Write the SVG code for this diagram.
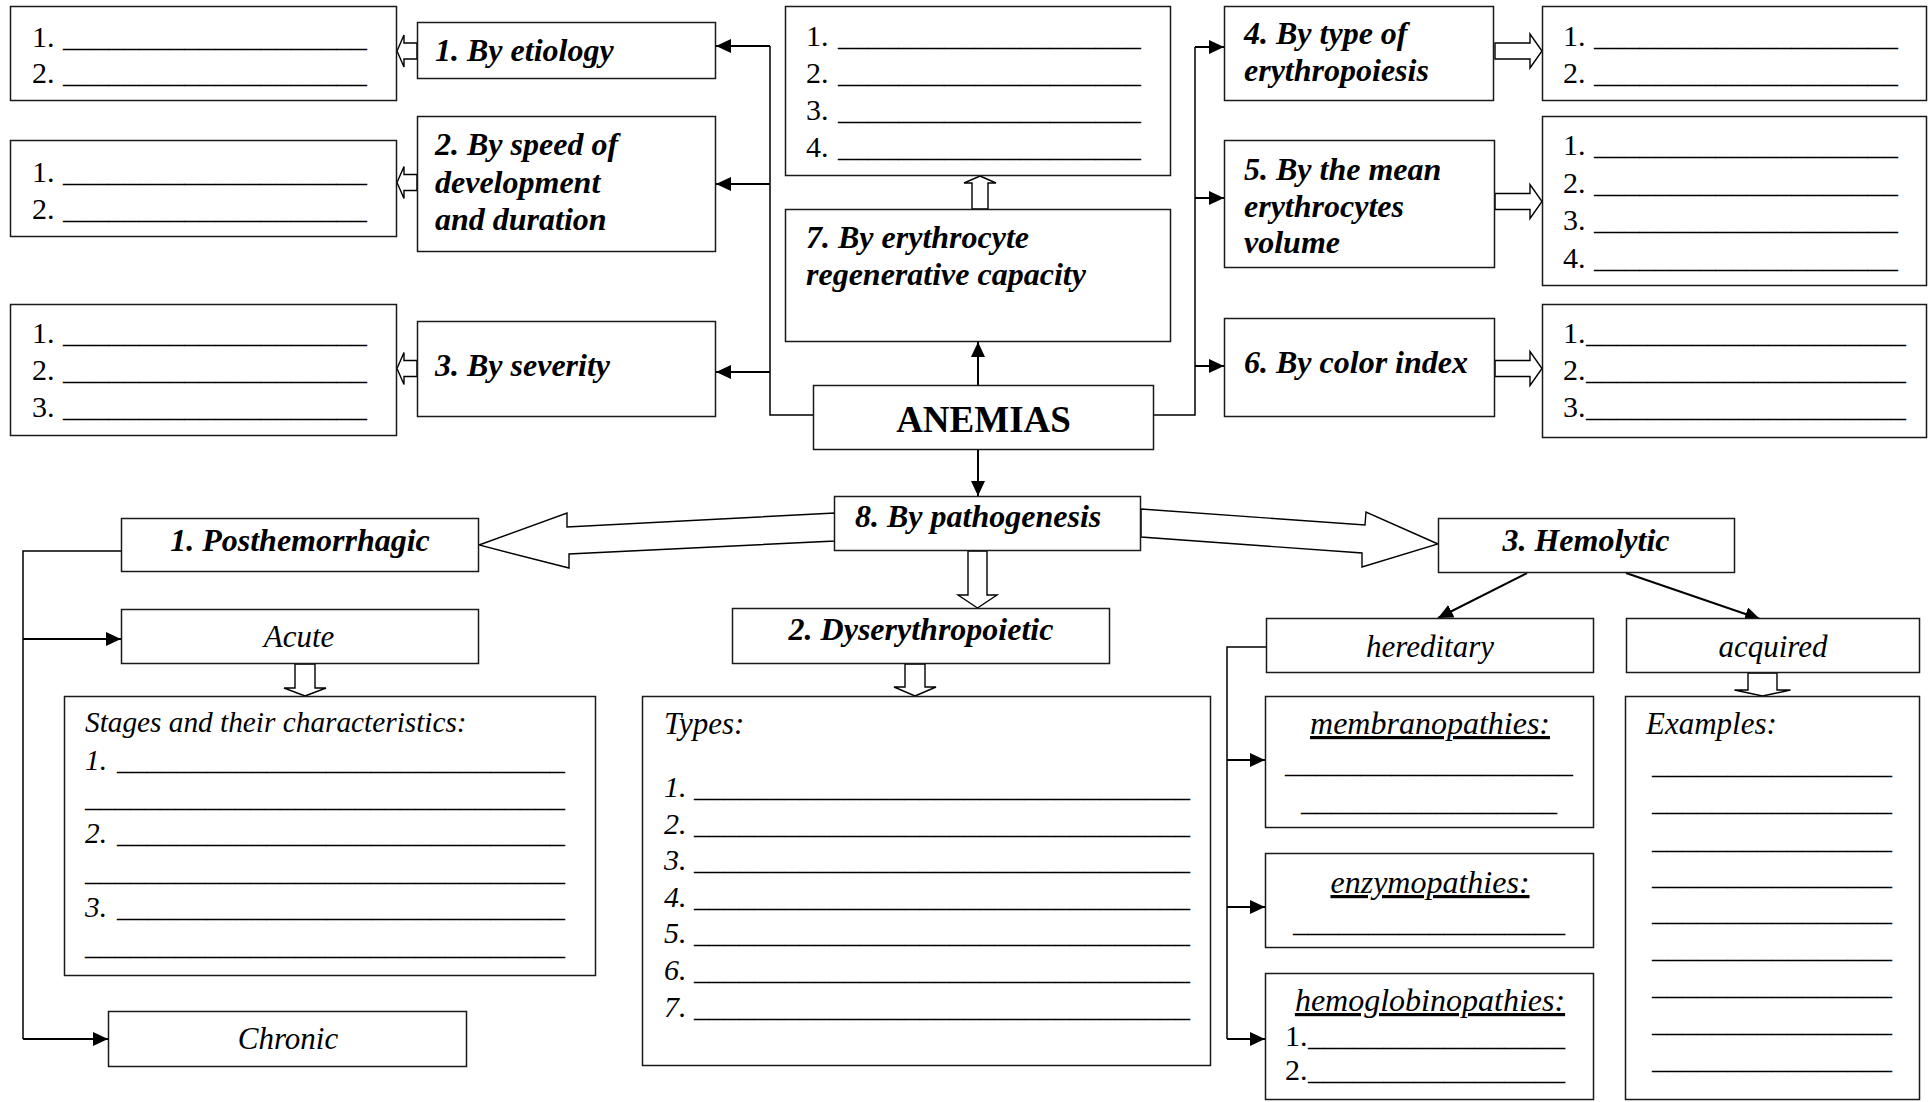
<svg xmlns="http://www.w3.org/2000/svg" width="1932" height="1102" viewBox="0 0 1932 1102">
<style>
text{font-family:"Liberation Serif","Times New Roman",serif;fill:#000}
.box{fill:#fff;stroke:#1a1a1a;stroke-width:1.5}
.lbl{font-size:32px;font-weight:bold;font-style:italic}
.big{font-size:37px;font-weight:bold}
.it{font-size:31px;font-style:italic}
.ul{text-decoration:underline;font-size:32px}
.num{font-size:30px}
.st{font-size:29.3px}
.line{stroke:#000;stroke-width:1.5;fill:none}
.arr{stroke:#000;stroke-width:2;fill:none;marker-end:url(#ah)}
.hol{fill:#fff;stroke:#000;stroke-width:1.4;stroke-linejoin:miter}
</style>
<defs>
<marker id="ah" markerUnits="userSpaceOnUse" markerWidth="15" markerHeight="14" refX="15" refY="7" orient="auto">
<path d="M0,0 L15,7 L0,14 Z" fill="#000"/>
</marker>
<path id="hl" d="M20,-8 H7 V-16 L0,0 L7,16 V8 H20 Z"/>
<path id="hr" d="M-47,-8 H-12 V-17 L0,0 L-12,17 V8 H-47 Z"/>
</defs>

<g id="connectors">
<polyline class="line" points="813,415 770,415 770,46"/>
<line class="arr" x1="770" y1="46" x2="716" y2="46"/>
<line class="arr" x1="770" y1="184" x2="716" y2="184"/>
<line class="arr" x1="770" y1="372" x2="716" y2="372"/>
<polyline class="line" points="1154,415 1195,415 1195,47"/>
<line class="arr" x1="1195" y1="47" x2="1224" y2="47"/>
<line class="arr" x1="1195" y1="198" x2="1224" y2="198"/>
<line class="arr" x1="1195" y1="366" x2="1224" y2="366"/>
<use href="#hl" class="hol" transform="translate(397,51)"/>
<use href="#hl" class="hol" transform="translate(397,182.5)"/>
<use href="#hl" class="hol" transform="translate(397,368.5)"/>
<use href="#hr" class="hol" transform="translate(1542,51)"/>
<use href="#hr" class="hol" transform="translate(1542,201.5)"/>
<use href="#hr" class="hol" transform="translate(1542,368.5)"/>
<path class="hol" d="M980,176 L996,183 H988 V209 H972 V183 H964 Z"/>
<line class="arr" x1="978" y1="385" x2="978" y2="342"/>
<line class="arr" x1="978" y1="450" x2="978" y2="496"/>
<path class="hol" d="M835,513 L567,527 L567,513 L479,545 L569,568 L569,554 L835,541 Z"/>
<path class="hol" d="M1141,509 L1365,525 L1366,512 L1438,544 L1362,567 L1362,553 L1141,537 Z"/>
<path class="hol" d="M977.5,608 L997,595 H987 V551 H968 V595 H958 Z"/>
<path class="hol" d="M915,696 L936,687 H925 V664 H905 V687 H894 Z"/>
<path class="hol" d="M305,696 L326,688 H315 V664 H295 V688 H284 Z"/>
<path class="hol" d="M1762.5,696 L1790.5,690 H1777 V673 H1748 V690 H1734.5 Z"/>
<polyline class="line" points="121,551 23,551 23,1039"/>
<line class="arr" x1="23" y1="639" x2="121" y2="639"/>
<line class="arr" x1="23" y1="1039" x2="108" y2="1039"/>
<line class="arr" x1="1527" y1="573" x2="1438" y2="618"/>
<line class="arr" x1="1626" y1="573" x2="1760" y2="619"/>
<polyline class="line" points="1266,647 1227,647 1227,1039"/>
<line class="arr" x1="1227" y1="760" x2="1265" y2="760"/>
<line class="arr" x1="1227" y1="907" x2="1265" y2="907"/>
<line class="arr" x1="1227" y1="1039" x2="1265" y2="1039"/>
</g>

<g id="list-etiology">
<rect class="box" x="10.5" y="6.5" width="386" height="94"/>
<text class="num" x="32" y="47">1. <tspan x="63" textLength="304" lengthAdjust="spacingAndGlyphs">____________________</tspan></text>
<text class="num" x="32" y="83">2. <tspan x="63" textLength="304" lengthAdjust="spacingAndGlyphs">____________________</tspan></text>
</g>
<g id="list-speed">
<rect class="box" x="10.5" y="140.5" width="386" height="96"/>
<text class="num" x="32" y="182">1. <tspan x="63" textLength="304" lengthAdjust="spacingAndGlyphs">____________________</tspan></text>
<text class="num" x="32" y="219">2. <tspan x="63" textLength="304" lengthAdjust="spacingAndGlyphs">____________________</tspan></text>
</g>
<g id="list-severity">
<rect class="box" x="10.5" y="304.5" width="386" height="131"/>
<text class="num" x="32" y="343">1. <tspan x="63" textLength="304" lengthAdjust="spacingAndGlyphs">____________________</tspan></text>
<text class="num" x="32" y="380">2. <tspan x="63" textLength="304" lengthAdjust="spacingAndGlyphs">____________________</tspan></text>
<text class="num" x="32" y="417">3. <tspan x="63" textLength="304" lengthAdjust="spacingAndGlyphs">____________________</tspan></text>
</g>
<g id="by-etiology">
<rect class="box" x="417.5" y="22.5" width="298" height="56"/>
<text class="lbl" x="435" y="61">1. By etiology</text>
</g>
<g id="by-speed">
<rect class="box" x="417.5" y="116.5" width="298" height="135"/>
<text class="lbl" x="435" y="155">2. By speed of</text>
<text class="lbl" x="435" y="193">development</text>
<text class="lbl" x="435" y="230">and duration</text>
</g>
<g id="by-severity">
<rect class="box" x="417.5" y="321.5" width="298" height="95"/>
<text class="lbl" x="435" y="376">3. By severity</text>
</g>

<g id="list-regenerative">
<rect class="box" x="785.5" y="6.5" width="385" height="169"/>
<text class="num" x="806" y="46">1. <tspan x="838" textLength="303" lengthAdjust="spacingAndGlyphs">____________________</tspan></text>
<text class="num" x="806" y="83">2. <tspan x="838" textLength="303" lengthAdjust="spacingAndGlyphs">____________________</tspan></text>
<text class="num" x="806" y="120">3. <tspan x="838" textLength="303" lengthAdjust="spacingAndGlyphs">____________________</tspan></text>
<text class="num" x="806" y="157">4. <tspan x="838" textLength="303" lengthAdjust="spacingAndGlyphs">____________________</tspan></text>
</g>
<g id="by-regenerative">
<rect class="box" x="785.5" y="209.5" width="385" height="132"/>
<text class="lbl" x="806" y="248">7. By erythrocyte</text>
<text class="lbl" x="806" y="285">regenerative capacity</text>
</g>
<g id="anemias">
<rect class="box" x="813.5" y="385.5" width="340" height="64"/>
<text class="big" x="983.5" y="432" text-anchor="middle">ANEMIAS</text>
</g>

<g id="by-erythropoiesis">
<rect class="box" x="1224.5" y="6.5" width="269" height="94"/>
<text class="lbl" x="1244" y="44">4. By type of</text>
<text class="lbl" x="1244" y="81">erythropoiesis</text>
</g>
<g id="by-volume">
<rect class="box" x="1224.5" y="140.5" width="270" height="127"/>
<text class="lbl" x="1244" y="180">5. By the mean</text>
<text class="lbl" x="1244" y="217">erythrocytes</text>
<text class="lbl" x="1244" y="253">volume</text>
</g>
<g id="by-color">
<rect class="box" x="1224.5" y="318.5" width="270" height="98"/>
<text class="lbl" x="1244" y="373">6. By color index</text>
</g>
<g id="list-erythropoiesis">
<rect class="box" x="1542.5" y="6.5" width="384" height="94"/>
<text class="num" x="1563" y="46">1. <tspan x="1594" textLength="304" lengthAdjust="spacingAndGlyphs">____________________</tspan></text>
<text class="num" x="1563" y="83">2. <tspan x="1594" textLength="304" lengthAdjust="spacingAndGlyphs">____________________</tspan></text>
</g>
<g id="list-volume">
<rect class="box" x="1542.5" y="116.5" width="384" height="169"/>
<text class="num" x="1563" y="155">1. <tspan x="1594" textLength="304" lengthAdjust="spacingAndGlyphs">____________________</tspan></text>
<text class="num" x="1563" y="193">2. <tspan x="1594" textLength="304" lengthAdjust="spacingAndGlyphs">____________________</tspan></text>
<text class="num" x="1563" y="230">3. <tspan x="1594" textLength="304" lengthAdjust="spacingAndGlyphs">____________________</tspan></text>
<text class="num" x="1563" y="268">4. <tspan x="1594" textLength="304" lengthAdjust="spacingAndGlyphs">____________________</tspan></text>
</g>
<g id="list-color">
<rect class="box" x="1542.5" y="304.5" width="384" height="133"/>
<text class="num" x="1563" y="343">1.<tspan x="1586" textLength="320" lengthAdjust="spacingAndGlyphs">_____________________</tspan></text>
<text class="num" x="1563" y="380">2.<tspan x="1586" textLength="320" lengthAdjust="spacingAndGlyphs">_____________________</tspan></text>
<text class="num" x="1563" y="417">3.<tspan x="1586" textLength="320" lengthAdjust="spacingAndGlyphs">_____________________</tspan></text>
</g>

<g id="by-pathogenesis">
<rect class="box" x="834.5" y="496.5" width="306" height="54"/>
<text class="lbl" x="855" y="527">8. By pathogenesis</text>
</g>
<g id="posthemorrhagic">
<rect class="box" x="121.5" y="518.5" width="357" height="53"/>
<text class="lbl" x="300" y="551" text-anchor="middle">1. Posthemorrhagic</text>
</g>
<g id="acute">
<rect class="box" x="121.5" y="609.5" width="357" height="54"/>
<text class="it" x="299" y="647" text-anchor="middle">Acute</text>
</g>
<g id="stages">
<rect class="box" x="64.5" y="696.5" width="531" height="279"/>
<text class="it st" x="85" y="732">Stages and their characteristics:</text>
<text class="it st" x="85" y="770">1. <tspan x="117" textLength="448" lengthAdjust="spacingAndGlyphs">______________________________</tspan></text>
<text class="it st" x="85" y="807" textLength="480" lengthAdjust="spacingAndGlyphs">________________________________</text>
<text class="it st" x="85" y="843">2. <tspan x="117" textLength="448" lengthAdjust="spacingAndGlyphs">______________________________</tspan></text>
<text class="it st" x="85" y="881" textLength="480" lengthAdjust="spacingAndGlyphs">________________________________</text>
<text class="it st" x="85" y="917">3. <tspan x="117" textLength="448" lengthAdjust="spacingAndGlyphs">______________________________</tspan></text>
<text class="it st" x="85" y="955" textLength="480" lengthAdjust="spacingAndGlyphs">________________________________</text>
</g>
<g id="chronic">
<rect class="box" x="108.5" y="1011.5" width="358" height="55"/>
<text class="it" x="288" y="1049" text-anchor="middle">Chronic</text>
</g>

<g id="dyserythropoietic">
<rect class="box" x="732.5" y="608.5" width="377" height="55"/>
<text class="lbl" x="921" y="640" text-anchor="middle">2. Dyserythropoietic</text>
</g>
<g id="types">
<rect class="box" x="642.5" y="696.5" width="568" height="369"/>
<text class="it" x="664" y="734">Types:</text>
<text class="it" x="664" y="797" style="font-size:30px">1. <tspan x="694" textLength="496" lengthAdjust="spacingAndGlyphs">_________________________________</tspan></text>
<text class="it" x="664" y="834" style="font-size:30px">2. <tspan x="694" textLength="496" lengthAdjust="spacingAndGlyphs">_________________________________</tspan></text>
<text class="it" x="664" y="870" style="font-size:30px">3. <tspan x="694" textLength="496" lengthAdjust="spacingAndGlyphs">_________________________________</tspan></text>
<text class="it" x="664" y="907" style="font-size:30px">4. <tspan x="694" textLength="496" lengthAdjust="spacingAndGlyphs">_________________________________</tspan></text>
<text class="it" x="664" y="943" style="font-size:30px">5. <tspan x="694" textLength="496" lengthAdjust="spacingAndGlyphs">_________________________________</tspan></text>
<text class="it" x="664" y="980" style="font-size:30px">6. <tspan x="694" textLength="496" lengthAdjust="spacingAndGlyphs">_________________________________</tspan></text>
<text class="it" x="664" y="1017" style="font-size:30px">7. <tspan x="694" textLength="496" lengthAdjust="spacingAndGlyphs">_________________________________</tspan></text>
</g>

<g id="hemolytic">
<rect class="box" x="1438.5" y="518.5" width="296" height="54"/>
<text class="lbl" x="1586" y="551" text-anchor="middle">3. Hemolytic</text>
</g>
<g id="hereditary">
<rect class="box" x="1266.5" y="618.5" width="327" height="54"/>
<text class="it" x="1430" y="657" text-anchor="middle">hereditary</text>
</g>
<g id="acquired">
<rect class="box" x="1626.5" y="618.5" width="293" height="54"/>
<text class="it" x="1773" y="657" text-anchor="middle">acquired</text>
</g>
<g id="membranopathies">
<rect class="box" x="1265.5" y="696.5" width="328" height="131"/>
<text class="it ul" x="1430" y="734" text-anchor="middle">membranopathies:</text>
<text class="num" x="1285" y="773" textLength="288" lengthAdjust="spacingAndGlyphs">___________________</text>
<text class="num" x="1301" y="811" textLength="256" lengthAdjust="spacingAndGlyphs">_________________</text>
</g>
<g id="enzymopathies">
<rect class="box" x="1265.5" y="853.5" width="328" height="94"/>
<text class="it ul" x="1430" y="893" text-anchor="middle">enzymopathies:</text>
<text class="num" x="1293" y="932" textLength="272" lengthAdjust="spacingAndGlyphs">__________________</text>
</g>
<g id="hemoglobinopathies">
<rect class="box" x="1265.5" y="973.5" width="328" height="126"/>
<text class="it ul" x="1430" y="1011" text-anchor="middle">hemoglobinopathies:</text>
<text class="num" x="1285" y="1046">1.<tspan x="1308" textLength="257" lengthAdjust="spacingAndGlyphs">_________________</tspan></text>
<text class="num" x="1285" y="1080">2.<tspan x="1308" textLength="257" lengthAdjust="spacingAndGlyphs">_________________</tspan></text>
</g>
<g id="examples">
<rect class="box" x="1625.5" y="696.5" width="294" height="403"/>
<text class="it" x="1646" y="734">Examples:</text>
<text class="num" x="1652" y="774" textLength="240" lengthAdjust="spacingAndGlyphs">________________</text>
<text class="num" x="1652" y="811" textLength="240" lengthAdjust="spacingAndGlyphs">________________</text>
<text class="num" x="1652" y="849" textLength="240" lengthAdjust="spacingAndGlyphs">________________</text>
<text class="num" x="1652" y="885" textLength="240" lengthAdjust="spacingAndGlyphs">________________</text>
<text class="num" x="1652" y="921" textLength="240" lengthAdjust="spacingAndGlyphs">________________</text>
<text class="num" x="1652" y="958" textLength="240" lengthAdjust="spacingAndGlyphs">________________</text>
<text class="num" x="1652" y="995" textLength="240" lengthAdjust="spacingAndGlyphs">________________</text>
<text class="num" x="1652" y="1032" textLength="240" lengthAdjust="spacingAndGlyphs">________________</text>
<text class="num" x="1652" y="1069" textLength="240" lengthAdjust="spacingAndGlyphs">________________</text>
</g>
</svg>
